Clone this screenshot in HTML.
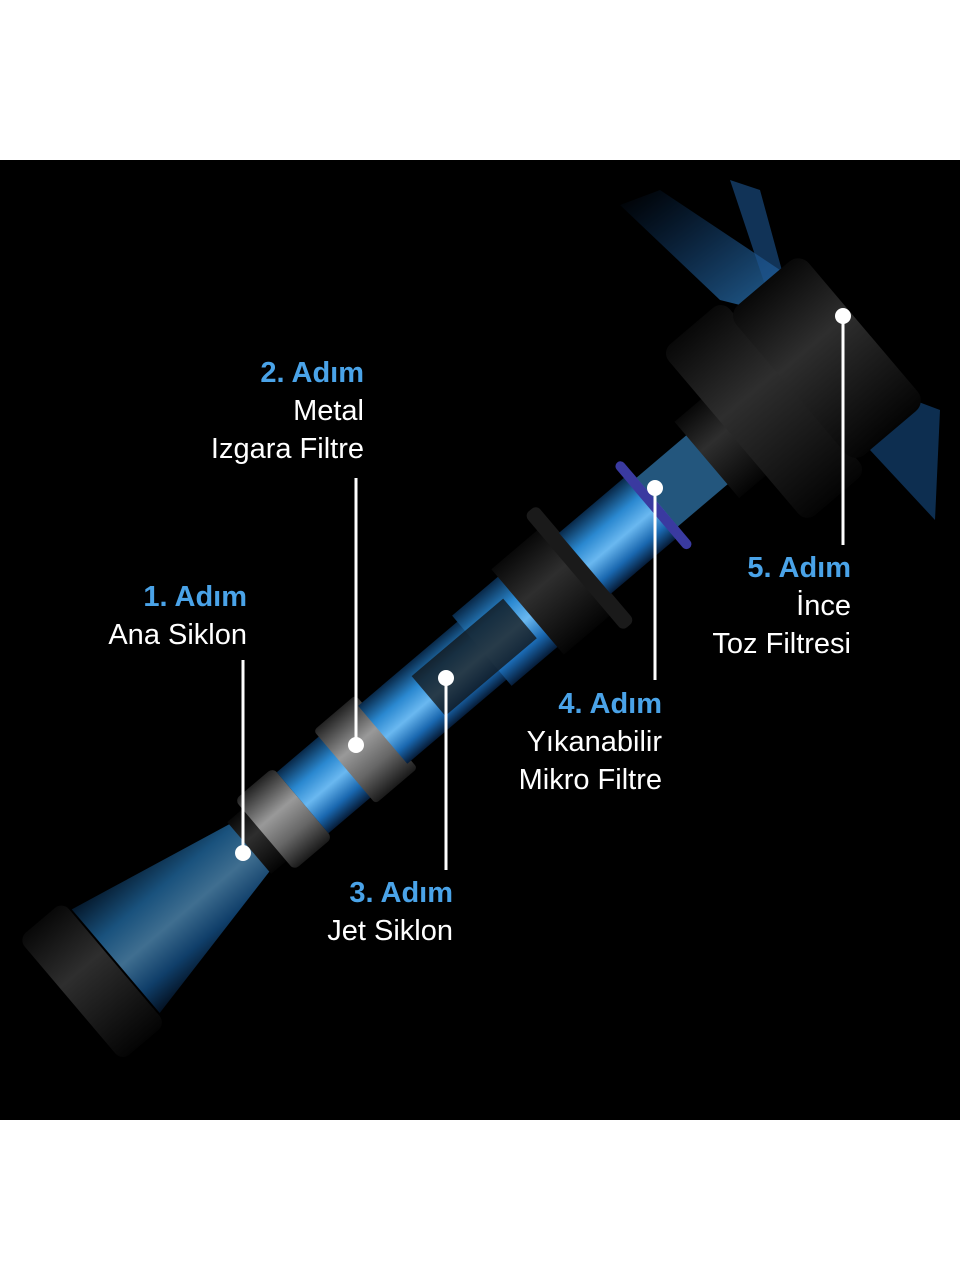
<!DOCTYPE html>
<html><head><meta charset="utf-8"><style>
html,body{margin:0;padding:0;background:#fff;width:960px;height:1280px;overflow:hidden}
.bk{position:absolute;left:0;top:160px;width:960px;height:960px;background:#000}
svg{position:absolute;left:0;top:0}
.t{font-family:"Liberation Sans",sans-serif;font-size:29px;fill:#fff;text-anchor:end}
.b{fill:#4aa3e8;font-weight:bold}
</style></head><body>
<div class="bk"></div>
<svg width="960" height="1280" viewBox="0 0 960 1280">
<defs>
<linearGradient id="bl" x1="0" y1="0" x2="0" y2="1">
<stop offset="0" stop-color="#082848"/><stop offset=".3" stop-color="#2a88d0"/><stop offset=".55" stop-color="#6ab8f0"/><stop offset=".8" stop-color="#1a68b0"/><stop offset="1" stop-color="#061c38"/></linearGradient>
<linearGradient id="gr" x1="0" y1="0" x2="0" y2="1">
<stop offset="0" stop-color="#222"/><stop offset=".4" stop-color="#999"/><stop offset=".7" stop-color="#666"/><stop offset="1" stop-color="#1a1a1a"/></linearGradient>
<linearGradient id="dk" x1="0" y1="0" x2="0" y2="1">
<stop offset="0" stop-color="#080808"/><stop offset=".4" stop-color="#2e2e2e"/><stop offset="1" stop-color="#040404"/></linearGradient>
<linearGradient id="fan" x1="0" y1="0" x2="1" y2="1">
<stop offset="0" stop-color="#1e6fd0" stop-opacity="0"/><stop offset="1" stop-color="#3a9ae8"/></linearGradient>
</defs>
<g opacity=".7">
<polygon points="620,205 660,190 780,270 800,320 720,300" fill="url(#fan)"/>
<polygon points="730,180 760,190 790,300 770,300" fill="#2a7ad0" opacity=".6"/>
<polygon points="860,380 940,410 935,520 870,450" fill="#2270c0" opacity=".6"/>
</g>
<g transform="translate(70,1000) rotate(-40.3)">
<polygon points="60,-68 240,-30 240,30 60,68" fill="url(#bl)" opacity=".6"/>
<rect x="0" y="-80" width="58" height="160" rx="10" fill="url(#dk)"/>
<rect x="235" y="-34" width="30" height="68" fill="url(#dk)"/>
<rect x="255" y="-46" width="50" height="92" rx="6" fill="url(#gr)"/>
<rect x="305" y="-40" width="60" height="80" fill="url(#bl)"/>
<rect x="360" y="-48" width="55" height="96" rx="4" fill="url(#gr)"/>
<rect x="410" y="-38" width="150" height="76" fill="url(#bl)"/>
<rect x="540" y="-46" width="120" height="92" fill="url(#bl)"/>
<rect x="470" y="-26" width="120" height="52" fill="#111" opacity=".75"/>
<rect x="600" y="-56" width="65" height="112" fill="url(#dk)"/>
<rect x="660" y="-76" width="16" height="152" rx="6" fill="#1a1a1a"/>
<rect x="675" y="-40" width="95" height="80" fill="url(#bl)"/>
<rect x="760" y="-56" width="10" height="112" rx="5" fill="#3a3aa0"/>
<rect x="770" y="-32" width="70" height="64" fill="#3a90d0" opacity=".6"/>
<rect x="835" y="-50" width="40" height="100" fill="url(#dk)"/>
<rect x="870" y="-112" width="80" height="224" rx="12" fill="url(#dk)"/>
<rect x="945" y="-98" width="95" height="196" rx="14" fill="url(#dk)"/>
</g>
<g stroke="#fff" stroke-width="3" fill="none">
<line x1="356" y1="478" x2="356" y2="745"/>
<line x1="243" y1="660" x2="243" y2="853"/>
<line x1="446" y1="678" x2="446" y2="870"/>
<line x1="655" y1="488" x2="655" y2="680"/>
<line x1="843" y1="316" x2="843" y2="545"/>
</g>
<g fill="#fff">
<circle cx="356" cy="745" r="8"/><circle cx="243" cy="853" r="8"/>
<circle cx="446" cy="678" r="8"/><circle cx="655" cy="488" r="8"/><circle cx="843" cy="316" r="8"/>
</g>
<text class="t b" x="364" y="382">2. Adım</text>
<text class="t" x="364" y="420">Metal</text>
<text class="t" x="364" y="458">Izgara Filtre</text>
<text class="t b" x="247" y="606">1. Adım</text>
<text class="t" x="247" y="644">Ana Siklon</text>
<text class="t b" x="851" y="577">5. Adım</text>
<text class="t" x="851" y="615">İnce</text>
<text class="t" x="851" y="653">Toz Filtresi</text>
<text class="t b" x="662" y="713">4. Adım</text>
<text class="t" x="662" y="751">Yıkanabilir</text>
<text class="t" x="662" y="789">Mikro Filtre</text>
<text class="t b" x="453" y="902">3. Adım</text>
<text class="t" x="453" y="940">Jet Siklon</text>
</svg>
</body></html>
